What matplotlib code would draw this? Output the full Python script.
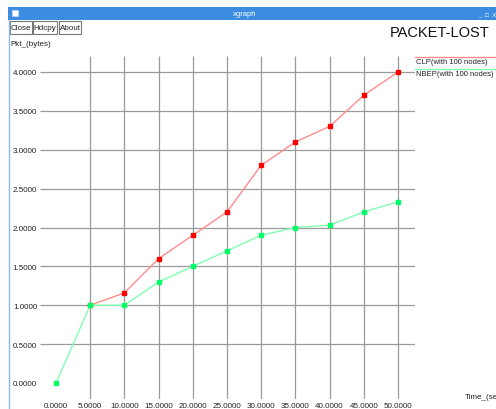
import matplotlib.pyplot as plt
from matplotlib.patches import Rectangle

plt.rcParams['font.family'] = ['Liberation Sans', 'DejaVu Sans']

time = [0, 5, 10, 15, 20, 25, 30, 35, 40, 45, 50]
clp_time = [5, 10, 15, 20, 25, 30, 35, 40, 45, 50]
clp = [1.0, 1.16, 1.6, 1.9, 2.2, 2.8, 3.1, 3.3, 3.7, 4.0]
nbep = [0.0, 1.0, 1.0, 1.3, 1.5, 1.7, 1.9, 2.0, 2.03, 2.2, 2.33]

xticks = [0, 5, 10, 15, 20, 25, 30, 35, 40, 45, 50]
yticks = [0.0, 0.5, 1.0, 1.5, 2.0, 2.5, 3.0, 3.5, 4.0]

W, H = 496, 410
fig = plt.figure(figsize=(W / 100, H / 100), dpi=100)
fig.patch.set_facecolor('white')

# window chrome (pixel coordinates, origin top-left)
chrome = fig.add_axes([0, 0, 1, 1])
chrome.set_xlim(0, W)
chrome.set_ylim(H, 0)
chrome.axis('off')
chrome.add_patch(Rectangle((8, 8), W - 8, 13, color='#3c8de2', lw=0))
chrome.add_patch(Rectangle((12, 11), 6, 6, facecolor='white', edgecolor='#c8ddf5', lw=0.5))
chrome.text(245, 14.5, 'xgraph', color='white', fontsize=5.5, ha='center', va='center')
chrome.text(487, 14.5, '_  \u25a1  X', color='white', fontsize=4.5, ha='center', va='center')
chrome.plot([8.5, 8.5], [21, H], color='#8fb8e8', lw=1)
for x0, x1, name in [(10, 32, 'Close'), (33, 57, 'Hdcpy'), (59, 81, 'About')]:
    chrome.add_patch(Rectangle((x0, 22), x1 - x0, 13, facecolor='white', edgecolor='#777777', lw=0.8))
    chrome.text((x0 + x1) / 2, 28.8, name, fontsize=5.8, ha='center', va='center', color='#222222')
chrome.text(390, 33, 'PACKET-LOST', fontsize=10.5, ha='left', va='center', color='#111111')
chrome.text(10, 45, 'Pkt_(bytes)', fontsize=5.8, ha='left', va='center', color='#222222')
chrome.text(465, 398, 'Time_(sec)', fontsize=5.8, ha='left', va='center', color='#222222')

# legend lines and labels
chrome.plot([415, W], [57.5, 57.5], color='#ff8c8c', lw=1)
chrome.text(416, 62.5, 'CLP(with 100 nodes)', fontsize=5.5, ha='left', va='center', color='#222222')
chrome.plot([415, W], [69.5, 69.5], color='#80ffb0', lw=1)
chrome.text(416, 74, 'NBEP(with 100 nodes)', fontsize=5.5, ha='left', va='center', color='#222222')

# plotting area: 0..50 -> px 56..398, 0..4 -> px 384..73
px_x = 342 / 50
px_y = 311 / 4
left, right, top, bottom = 40, 415, 57, 400
xmin = (left - 56) / px_x
xmax = (right - 56) / px_x
ymax = (384 - top) / px_y
ymin = (384 - bottom) / px_y

ax = fig.add_axes([left / W, 1 - bottom / H, (right - left) / W, (bottom - top) / H])
ax.set_xlim(xmin, xmax)
ax.set_ylim(ymin, ymax)
ax.patch.set_alpha(0)
for s in ax.spines.values():
    s.set_visible(False)

ax.hlines([y for y in yticks if y > 0], xmin, xmax, color='#9a9a9a', lw=0.9, zorder=1)
ax.vlines([x for x in xticks if x > 0], ymin, ymax, color='#9a9a9a', lw=0.9, zorder=1)

ax.plot(clp_time, clp, color='#ff8c8c', lw=1, marker='s', ms=2.6,
        mfc='#ff0000', mec='#ff0000', zorder=3)
ax.plot(time, nbep, color='#80ffb0', lw=1, marker='s', ms=2.6,
        mfc='#00ff66', mec='#00ff66', zorder=3)

ax.set_xticks(xticks)
ax.set_xticklabels(['%.4f' % x for x in xticks])
ax.set_yticks(yticks)
ax.set_yticklabels(['%.4f' % y for y in yticks])
ax.tick_params(length=0, labelsize=5.8, colors='#222222', pad=2)

fig.savefig('out.png', dpi=100)
